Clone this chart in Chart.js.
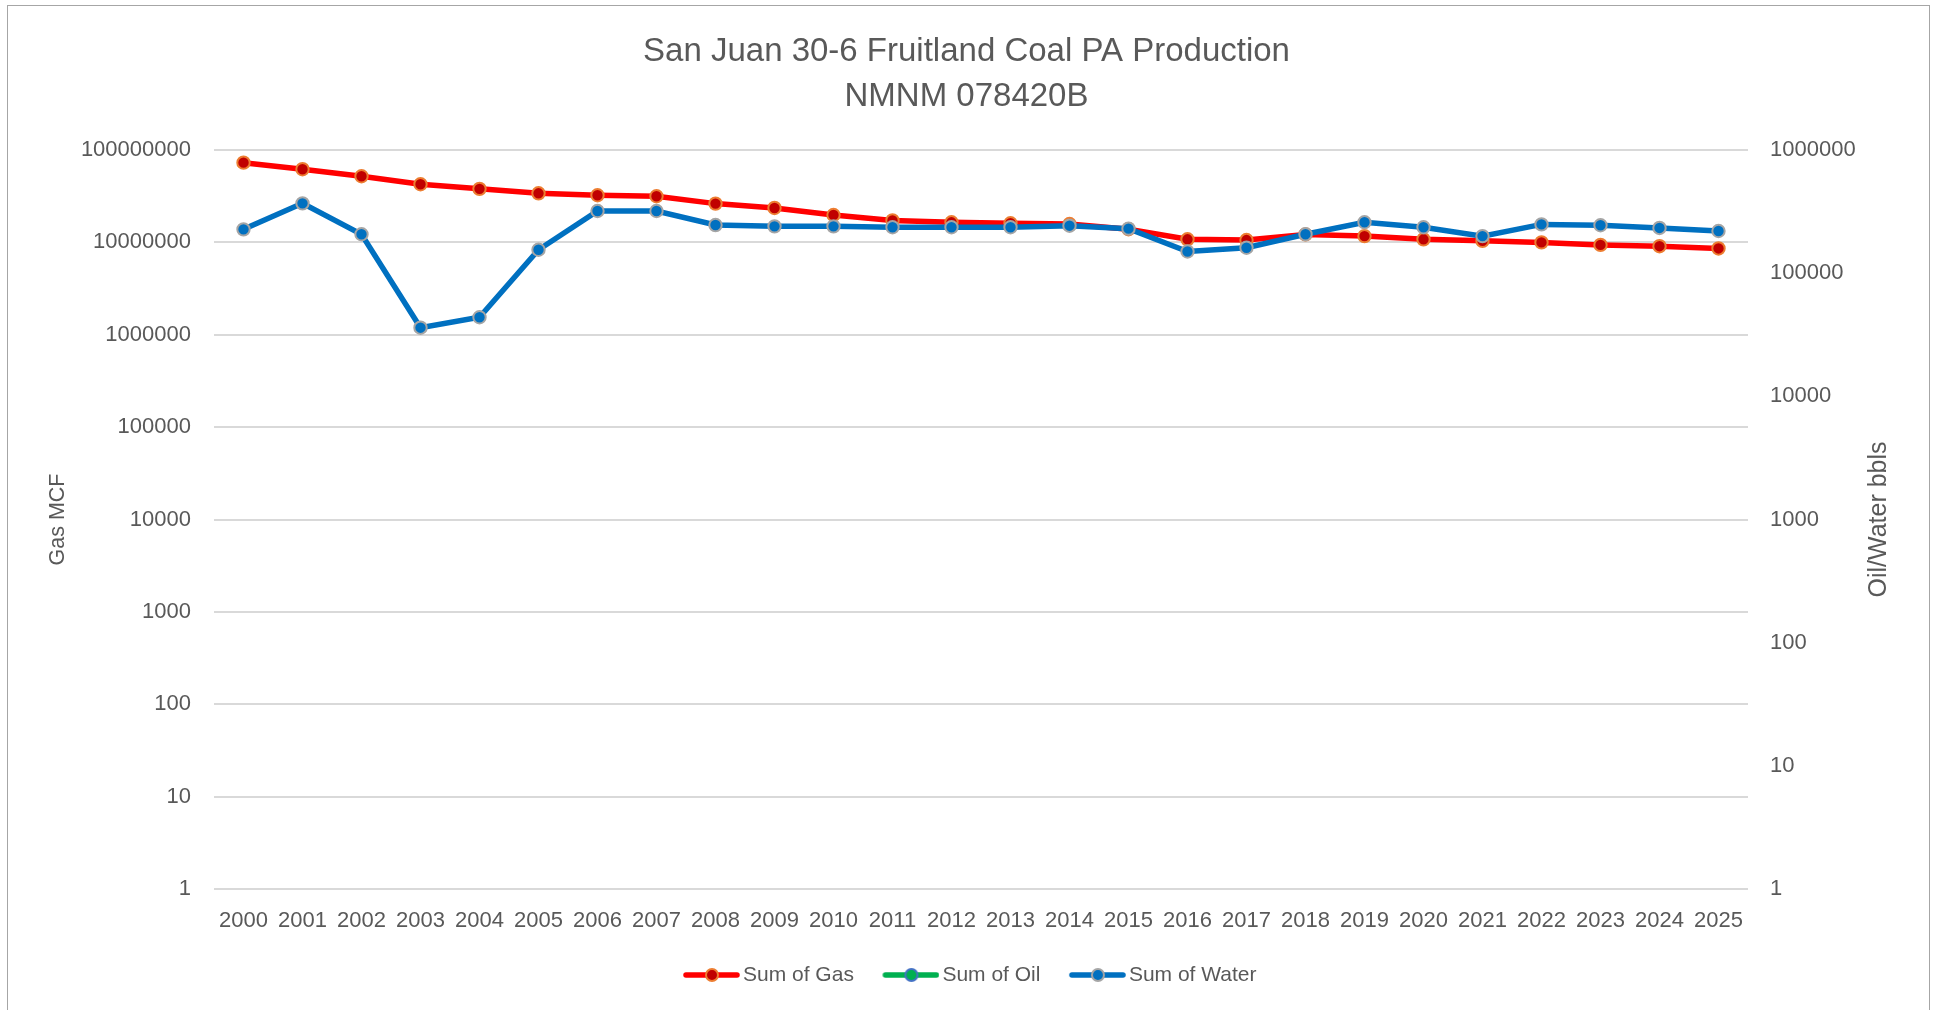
<!DOCTYPE html>
<html>
<head>
<meta charset="utf-8">
<title>San Juan 30-6 Fruitland Coal PA Production</title>
<script src="https://cdn.jsdelivr.net/npm/chart.js@4.4.1/dist/chart.umd.min.js"></script>
<style>
  html, body { margin: 0; padding: 0; background: #fff; overflow: hidden; }
  #wrap { position: relative; width: 1933px; height: 1010px; }
  #frame { position: absolute; left: 7px; top: 5px; width: 1921px; height: 1100px; border: 1px solid #A6A6A6; pointer-events: none; }
</style>
</head>
<body>
<div id="wrap">
  <canvas id="prod-chart" width="1933" height="1010"></canvas>
  <div id="frame"></div>
</div>
<script>
const years = ['2000', '2001', '2002', '2003', '2004', '2005', '2006', '2007', '2008', '2009',
  '2010', '2011', '2012', '2013', '2014', '2015', '2016', '2017', '2018', '2019',
  '2020', '2021', '2022', '2023', '2024', '2025'];

// Gas MCF, left axis
const gasMcf = [73000000, 62000000, 52000000, 42600000, 38000000, 34000000, 32400000, 31600000, 26300000, 23600000,
  19800000, 17300000, 16500000, 16100000, 15800000, 13900000, 10800000, 10600000, 12200000, 11700000,
  10800000, 10400000, 10000000, 9400000, 9100000, 8600000];

// Oil bbls, right axis (nothing plotted)
const oilBbls = [null, null, null, null, null, null, null, null, null, null,
  null, null, null, null, null, null, null, null, null, null,
  null, null, null, null, null, null];

// Water bbls, right axis
const waterBbls = [227000, 369000, 207000, 36100, 43900, 155000, 320000, 320000, 246000, 240000,
  240000, 236000, 236000, 236000, 243000, 230000, 150000, 161000, 207000, 259000,
  236000, 200000, 249000, 245000, 233000, 220000];

const gasTicks = [1, 10, 100, 1000, 10000, 100000, 1000000, 10000000, 100000000];
const bblTicks = [1, 10, 100, 1000, 10000, 100000, 1000000];

const FONT = '"Liberation Sans", Arial, sans-serif';
const TEXT = '#595959';

function legendIcon(lineColor, fill, stroke) {
  const c = document.createElement('canvas');
  c.width = 71;
  c.height = 20;
  const g = c.getContext('2d');
  g.strokeStyle = lineColor;
  g.lineWidth = 5.5;
  g.lineCap = 'round';
  g.beginPath();
  g.moveTo(17, 10);
  g.lineTo(68, 10);
  g.stroke();
  g.beginPath();
  g.arc(43, 10, 6, 0, Math.PI * 2);
  g.fillStyle = fill;
  g.fill();
  g.lineWidth = 2;
  g.strokeStyle = stroke;
  g.stroke();
  return c;
}

const icons = [
  legendIcon('#FF0000', '#C00000', '#ED7D31'),
  legendIcon('#00B050', '#00B050', '#4472C4'),
  legendIcon('#0070C0', '#0070C0', '#A5A5A5')
];

const rightTitle = {
  id: 'rightTitle',
  afterDraw(chart) {
    const s = chart.scales.y2;
    const ctx = chart.ctx;
    ctx.save();
    ctx.translate(s.right - 54, (s.top + s.bottom) / 2);
    ctx.rotate(-Math.PI / 2);
    ctx.font = '25px ' + FONT;
    ctx.fillStyle = TEXT;
    ctx.textAlign = 'center';
    ctx.textBaseline = 'middle';
    ctx.fillText('Oil/Water bbls', 0, 0);
    ctx.restore();
  }
};

new Chart(document.getElementById('prod-chart').getContext('2d'), {
  type: 'line',
  data: {
    labels: years,
    datasets: [
      {
        label: 'Sum of Gas',
        data: gasMcf,
        yAxisID: 'y',
        borderColor: '#FF0000',
        borderWidth: 5.5,
        pointRadius: 6.2,
        pointBorderWidth: 2,
        pointBackgroundColor: '#C00000',
        pointBorderColor: '#ED7D31',
        order: 1
      },
      {
        label: 'Sum of Oil',
        data: oilBbls,
        yAxisID: 'y2',
        borderColor: '#00B050',
        borderWidth: 5.5,
        pointRadius: 6.2,
        pointBorderWidth: 2,
        pointBackgroundColor: '#00B050',
        pointBorderColor: '#4472C4',
        order: 2
      },
      {
        label: 'Sum of Water',
        data: waterBbls,
        yAxisID: 'y2',
        borderColor: '#0070C0',
        borderWidth: 5.5,
        pointRadius: 6.2,
        pointBorderWidth: 2,
        pointBackgroundColor: '#0070C0',
        pointBorderColor: '#A5A5A5',
        order: 0
      }
    ]
  },
  options: {
    responsive: false,
    animation: false,
    layout: { padding: { left: 0, right: 0, top: 0, bottom: 14.5 } },
    elements: { line: { tension: 0 } },
    scales: {
      x: {
        offset: true,
        grid: { display: false, drawTicks: false },
        border: { display: false },
        ticks: { color: TEXT, font: { family: FONT, size: 22 }, padding: 19, maxRotation: 0, autoSkip: false },
        afterFit(scale) { scale.height = 53.5; }
      },
      y: {
        type: 'logarithmic',
        position: 'left',
        min: 1,
        max: 100000000,
        afterBuildTicks(scale) { scale.ticks = gasTicks.map(v => ({ value: v })); },
        afterFit(scale) { scale.width = 214; },
        grid: { color: '#D9D9D9', lineWidth: 2, drawTicks: false },
        border: { display: false },
        ticks: {
          color: TEXT,
          font: { family: FONT, size: 22 },
          padding: 23,
          callback: v => String(v)
        },
        title: {
          display: true,
          text: 'Gas MCF',
          color: TEXT,
          font: { family: FONT, size: 21.5 },
          padding: { top: 45, bottom: 0 }
        }
      },
      y2: {
        type: 'logarithmic',
        position: 'right',
        min: 1,
        max: 1000000,
        afterBuildTicks(scale) { scale.ticks = bblTicks.map(v => ({ value: v })); },
        afterFit(scale) { scale.width = 185; },
        grid: { drawOnChartArea: false, drawTicks: false },
        border: { display: false },
        ticks: {
          color: TEXT,
          font: { family: FONT, size: 22 },
          padding: 22,
          callback: v => String(v)
        }
      }
    },
    plugins: {
      title: {
        display: true,
        text: ['San Juan 30-6 Fruitland Coal PA Production', 'NMNM 078420B'],
        color: TEXT,
        font: { family: FONT, size: 33, weight: 'normal', lineHeight: 1.364 },
        padding: { top: 29, bottom: 31 }
      },
      legend: {
        position: 'bottom',
        labels: {
          usePointStyle: true,
          pointStyleWidth: 56,
          padding: 22,
          color: TEXT,
          font: { family: FONT, size: 21 },
          generateLabels(chart) {
            return chart.data.datasets.map((ds, i) => ({
              text: ds.label,
              pointStyle: icons[i],
              fontColor: TEXT,
              hidden: false,
              lineWidth: 0,
              strokeStyle: 'transparent',
              fillStyle: 'transparent',
              datasetIndex: i
            }));
          }
        }
      },
      tooltip: { enabled: false }
    }
  },
  plugins: [rightTitle]
});
</script>
</body>
</html>
